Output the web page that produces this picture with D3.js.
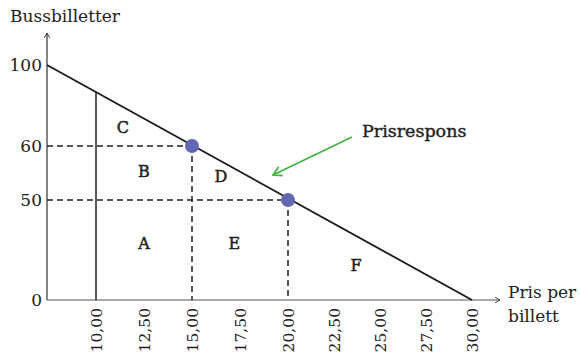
<!DOCTYPE html>
<html>
<head>
<meta charset="utf-8">
<script src="https://cdn.jsdelivr.net/npm/d3@7"></script>
<style>
  body { margin: 0; background: #fff; }
  text { font-family: "DejaVu Serif", serif; fill: #222; }
</style>
</head>
<body>
<div id="chart"></div>
<script>
// Data
const xTicks = [10, 12.5, 15, 17.5, 20, 22.5, 25, 27.5, 30];
const yTicks = [0, 50, 60, 100];
const demand = [{ price: 7.5, qty: 100 }, { price: 30, qty: 0 }];
const points = [{ price: 15, qty: 60 }, { price: 20, qty: 50 }];
const areaLabels = [
  { name: "C", price: 11.4, qty: 66.5 },
  { name: "B", price: 12.5, qty: 54.3 },
  { name: "D", price: 16.5, qty: 53.4 },
  { name: "A", price: 12.5, qty: 25.5 },
  { name: "E", price: 17.2, qty: 25.5 },
  { name: "F", price: 23.7, qty: 14.5 }
];

const width = 580, height = 363;

const svg = d3.select("#chart").append("svg")
  .attr("width", width)
  .attr("height", height);

// schematic scales (the picture isn't drawn to a linear y scale)
const x = d3.scaleLinear().domain([7.5, 10, 20, 30]).range([47, 96, 288, 472]);
const y = d3.scaleLinear().domain([0, 50, 60, 100]).range([300, 200, 146, 65]);

const fmt = d => d3.format(".2f")(d).replace(".", ",");

const defs = svg.append("defs");

// axis arrow head
defs.append("marker")
  .attr("id", "arrow")
  .attr("viewBox", "0 0 10 10")
  .attr("refX", 9).attr("refY", 5)
  .attr("markerWidth", 7).attr("markerHeight", 7)
  .attr("markerUnits", "userSpaceOnUse")
  .attr("orient", "auto")
  .append("path")
  .attr("d", "M2,1 L9,5 L2,9")
  .attr("fill", "none")
  .attr("stroke", "#333")
  .attr("stroke-width", 1.3);

svg.append("line")
  .attr("x1", x(7.5)).attr("y1", y(0))
  .attr("x2", x(7.5)).attr("y2", 33)
  .attr("stroke", "#333").attr("stroke-width", 1.2)
  .attr("marker-end", "url(#arrow)");

svg.append("line")
  .attr("x1", x(7.5)).attr("y1", y(0))
  .attr("x2", 500).attr("y2", y(0))
  .attr("stroke", "#555").attr("stroke-width", 1.2)
  .attr("marker-end", "url(#arrow)");

// y tick labels
svg.selectAll(".ylab")
  .data(yTicks)
  .enter().append("text")
  .attr("x", 42)
  .attr("y", d => y(d) + 6)
  .attr("text-anchor", "end")
  .attr("font-size", "17px")
  .text(d => d);

// x tick labels (rotated)
svg.selectAll(".xlab")
  .data(xTicks)
  .enter().append("text")
  .attr("transform", d => `translate(${x(d) + 6},${y(0) + 8}) rotate(-90)`)
  .attr("text-anchor", "end")
  .attr("font-size", "15.5px")
  .text(fmt);

// guide lines
const dash = "6,4";
points.forEach(p => {
  svg.append("line")
    .attr("x1", x(7.5)).attr("y1", y(p.qty))
    .attr("x2", x(p.price)).attr("y2", y(p.qty))
    .attr("stroke", "#222").attr("stroke-width", 1.5)
    .attr("stroke-dasharray", dash);
  svg.append("line")
    .attr("x1", x(p.price)).attr("y1", y(p.qty))
    .attr("x2", x(p.price)).attr("y2", y(0))
    .attr("stroke", "#222").attr("stroke-width", 1.5)
    .attr("stroke-dasharray", dash);
});

// solid vertical at 10
const topAt10 = y(100) + (y(0) - y(100)) * (x(10) - x(7.5)) / (x(30) - x(7.5));
svg.append("line")
  .attr("x1", x(10)).attr("y1", y(0))
  .attr("x2", x(10)).attr("y2", topAt10)
  .attr("stroke", "#222").attr("stroke-width", 1.5);

// demand line
svg.append("path")
  .datum(demand)
  .attr("d", d3.line().x(d => x(d.price)).y(d => y(d.qty)))
  .attr("fill", "none")
  .attr("stroke", "#1a1a1a")
  .attr("stroke-width", 1.8);

// points
svg.selectAll(".pt")
  .data(points)
  .enter().append("circle")
  .attr("cx", d => x(d.price))
  .attr("cy", d => y(d.qty))
  .attr("r", 7)
  .attr("fill", "#6467b3");

// area labels
svg.selectAll(".area")
  .data(areaLabels)
  .enter().append("text")
  .attr("x", d => x(d.price))
  .attr("y", d => y(d.qty))
  .attr("text-anchor", "middle")
  .attr("font-size", "16px")
  .attr("stroke", "#222")
  .attr("stroke-width", 0.5)
  .text(d => d.name);

// annotation arrow
defs.append("marker")
  .attr("id", "garrow")
  .attr("viewBox", "0 0 10 10")
  .attr("refX", 9).attr("refY", 5)
  .attr("markerWidth", 12).attr("markerHeight", 12)
  .attr("markerUnits", "userSpaceOnUse")
  .attr("orient", "auto")
  .append("path")
  .attr("d", "M2,1 L9,5 L2,9")
  .attr("fill", "none")
  .attr("stroke", "#3db53d")
  .attr("stroke-width", 1.4);

svg.append("line")
  .attr("x1", 352).attr("y1", 137)
  .attr("x2", 273).attr("y2", 175)
  .attr("stroke", "#3db53d").attr("stroke-width", 1.6)
  .attr("marker-end", "url(#garrow)");

svg.append("text")
  .attr("x", 362).attr("y", 137)
  .attr("font-size", "17.5px")
  .attr("stroke", "#222")
  .attr("stroke-width", 0.4)
  .text("Prisrespons");

// axis titles
svg.append("text")
  .attr("x", 10).attr("y", 22)
  .attr("font-size", "17px")
  .text("Bussbilletter");

svg.append("text")
  .attr("x", 508).attr("y", 298)
  .attr("font-size", "17px")
  .text("Pris per");

svg.append("text")
  .attr("x", 508).attr("y", 322)
  .attr("font-size", "17px")
  .text("billett");
</script>
</body>
</html>
